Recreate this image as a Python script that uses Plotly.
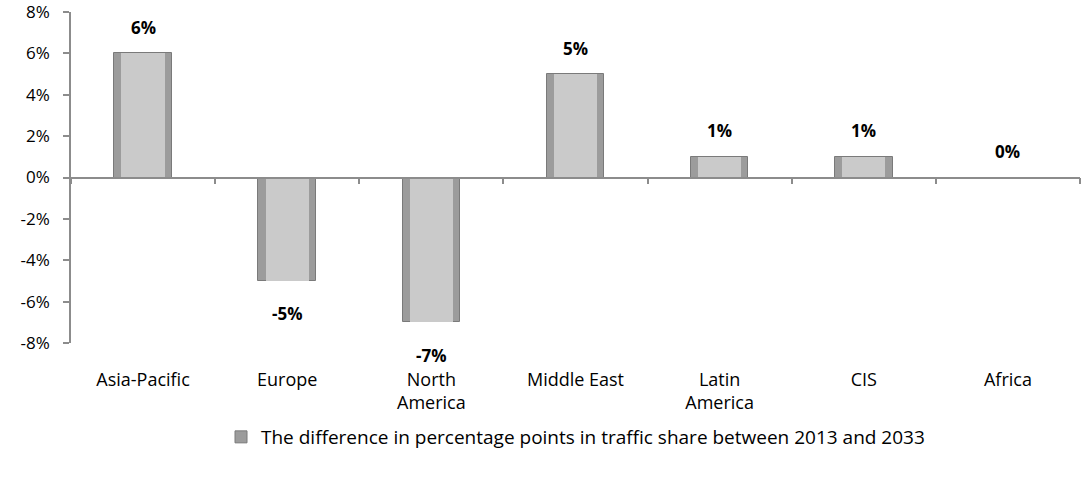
import plotly.graph_objects as go

categories = ["Asia-Pacific", "Europe", "North<br>America", "Middle East", "Latin<br>America", "CIS", "Africa"]
values = [6, -5, -7, 5, 1, 1, 0]
labels = ["6%", "-5%", "-7%", "5%", "1%", "1%", "0%"]
y_ticks = [-8, -6, -4, -2, 0, 2, 4, 6, 8]
y_tick_text = ["-8%", "-6%", "-4%", "-2%", "0%", "2%", "4%", "6%", "8%"]
series_name = "The difference in percentage points in traffic share between 2013 and 2033"

FONT = "Open Sans"

fig = go.Figure()
# outer (darker edge) bar
fig.add_trace(go.Bar(
    x=categories, y=values, width=0.4, name=series_name,
    marker=dict(color="#9c9c9c", line=dict(color="#7a7a7a", width=1)),
    showlegend=True, hoverinfo="skip",
))
# inner lighter face
fig.add_trace(go.Bar(
    x=categories, y=values, width=0.3,
    marker=dict(color="#cacaca", line=dict(width=0)),
    showlegend=False, hoverinfo="skip",
))
# dummy trace on the zero-line axis
fig.add_trace(go.Scatter(x=categories, y=[0] * len(categories), xaxis="x2",
                         mode="markers", marker=dict(opacity=0), showlegend=False, hoverinfo="skip"))

for c, v, t in zip(categories, values, labels):
    fig.add_annotation(x=c, y=v, text=f"<b>{t}</b>", showarrow=False,
                       yshift=26 if v >= 0 else -33,
                       font=dict(family=FONT, size=17, color="#000"))

fig.update_layout(
    barmode="overlay",
    width=1082, height=483,
    margin=dict(l=71, r=2, t=12, b=140, autoexpand=False),
    plot_bgcolor="white", paper_bgcolor="white",
    font=dict(family=FONT, size=18, color="#000"),
    xaxis=dict(showline=False, ticks="", showgrid=False, zeroline=False,
               ticklabelstandoff=24, tickfont=dict(size=18)),
    xaxis2=dict(overlaying="x", matches="x", anchor="free", position=0.5, side="bottom",
                showline=True, linecolor="#8c8c8c", linewidth=1.5,
                ticks="outside", ticklen=6, tickcolor="#8c8c8c", tickwidth=1.5,
                tickson="boundaries", showticklabels=False, showgrid=False, zeroline=False),
    yaxis=dict(range=[-8, 8], tickvals=y_ticks, ticktext=y_tick_text,
               showline=True, linecolor="#8c8c8c", linewidth=1.5,
               ticks="outside", ticklen=6, tickcolor="#8c8c8c", tickwidth=1.5,
               showgrid=False, zeroline=False, ticklabelstandoff=10,
               ticklabeloverflow="allow", tickfont=dict(size=17)),
    legend=dict(orientation="h", x=0.5, xanchor="center", y=-0.284, yanchor="middle",
                font=dict(size=19), itemwidth=30),
    bargap=0,
)

fig.write_html("out.html", config={"displayModeBar": False},
               post_script="document.body.style.margin='0';")
